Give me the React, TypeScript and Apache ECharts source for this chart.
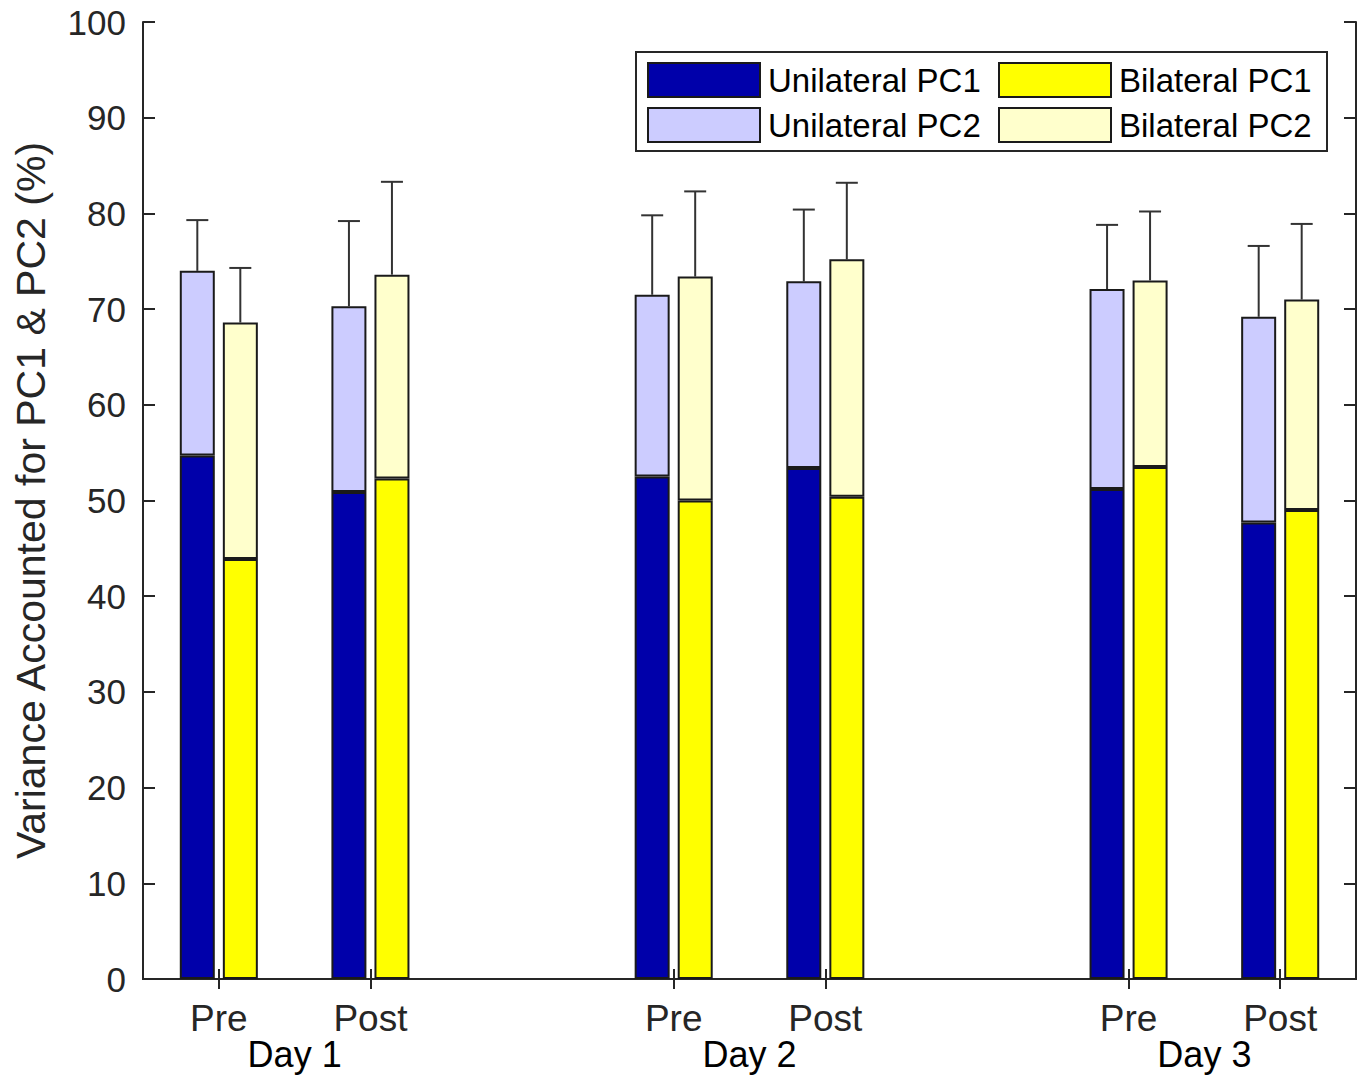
import React, { useEffect, useRef } from "react";
import * as echarts from "echarts";

// Slots on the category axis (empty slots separate the days)
const slotLabels = ["Pre", "Post", "", "Pre", "Post", "", "Pre", "Post"];
const slotOfGroup = [0, 1, 3, 4, 6, 7];
const dayLabels = ["Day 1", "Day 2", "Day 3"];
const dayPositions = [1, 4, 7];

// Values per group (Day1 Pre, Day1 Post, Day2 Pre, Day2 Post, Day3 Pre, Day3 Post)
const uniPC1 = [54.7, 50.9, 52.5, 53.4, 51.2, 47.7];
const uniTotal = [74.0, 70.3, 71.5, 72.9, 72.1, 69.2];
const uniSD = [5.3, 8.9, 8.3, 7.5, 6.7, 7.4];
const biPC1 = [43.9, 52.3, 50.0, 50.4, 53.5, 49.0];
const biTotal = [68.6, 73.6, 73.4, 75.2, 73.0, 71.0];
const biSD = [5.7, 9.7, 8.9, 8.0, 7.2, 7.9];

const yTicks = { min: 0, max: 100, interval: 10 };

const FONT = "'Liberation Sans', Arial, Helvetica, sans-serif";
const AXIS = "#262626";

function toSlots(vals: number[]): (number | string)[] {
  const out: (number | string)[] = slotLabels.map(() => "-");
  vals.forEach((v, i) => {
    out[slotOfGroup[i]] = v;
  });
  return out;
}

function errorSeries(name: string, totals: number[], sds: number[], offset: number) {
  return {
    type: "custom",
    name,
    xAxisIndex: 0,
    yAxisIndex: 0,
    z: 1,
    data: totals.map((t, i) => [slotOfGroup[i], t, sds[i]]),
    renderItem: (params: any, api: any) => {
      const idx = api.value(0);
      const top = api.value(1);
      const sd = api.value(2);
      const p0 = api.coord([idx, top]);
      const p1 = api.coord([idx, top + sd]);
      const x = p0[0] + offset;
      const style = { stroke: "#333333", lineWidth: 2 };
      return {
        type: "group",
        children: [
          { type: "line", shape: { x1: x, y1: p0[1], x2: x, y2: p1[1] }, style },
          { type: "line", shape: { x1: x - 11, y1: p1[1], x2: x + 11, y2: p1[1] }, style },
        ],
      };
    },
  };
}

export default function App() {
  const ref = useRef<HTMLDivElement>(null);

  useEffect(() => {
    if (!ref.current) return;
    const chart = echarts.init(ref.current, undefined, { renderer: "svg" });

    const barBorder = { borderColor: "#1a1a1a", borderWidth: 2 };
    const legendCommon = {
      orient: "vertical",
      top: 62,
      itemWidth: 112,
      itemHeight: 34,
      itemGap: 9,
      padding: 0,
      icon: "rect",
      selectedMode: false,
      textStyle: { fontSize: 33, fontFamily: FONT, color: "#000", padding: [0, 0, 0, 3] },
    };

    const option: any = {
      animation: false,
      backgroundColor: "#ffffff",
      grid: { left: 143, right: 7, top: 22, bottom: 97, containLabel: false },
      graphic: [
        {
          type: "rect",
          z: 3,
          shape: { x: 636, y: 52, width: 691, height: 99 },
          style: { fill: "#ffffff", stroke: AXIS, lineWidth: 2 },
        },
      ],
      legend: [
        { ...legendCommon, left: 647, data: ["Unilateral PC1", "Unilateral PC2"] },
        { ...legendCommon, left: 998, data: ["Bilateral PC1", "Bilateral PC2"] },
      ],
      xAxis: [
        {
          type: "category",
          data: slotLabels,
          position: "bottom",
          axisLine: { show: true, lineStyle: { color: AXIS, width: 2 } },
          axisTick: {
            show: true,
            inside: true,
            length: 10,
            alignWithLabel: true,
            interval: (i: number, v: string) => v !== "",
            lineStyle: { color: AXIS, width: 2 },
          },
          axisLabel: { interval: 0, fontSize: 37, fontFamily: FONT, color: AXIS, margin: 21 },
          splitLine: { show: false },
        },
        {
          type: "category",
          data: slotLabels,
          position: "top",
          axisLine: { show: true, lineStyle: { color: AXIS, width: 2 } },
          axisTick: {
            show: true,
            inside: true,
            length: 10,
            alignWithLabel: true,
            interval: (i: number, v: string) => v !== "",
            lineStyle: { color: AXIS, width: 2 },
          },
          axisLabel: { show: false },
          splitLine: { show: false },
        },
        {
          type: "value",
          position: "bottom",
          min: 0,
          max: 8,
          interval: 1,
          axisLine: { show: false },
          axisTick: { show: false },
          splitLine: { show: false },
          axisLabel: {
            fontSize: 36,
            fontFamily: FONT,
            color: "#000",
            margin: 57,
            formatter: (v: number) => {
              const k = dayPositions.indexOf(Math.round(v));
              return k >= 0 ? dayLabels[k] : "";
            },
          },
        },
      ],
      yAxis: [
        {
          type: "value",
          position: "left",
          ...yTicks,
          name: "Variance Accounted for PC1 & PC2 (%)",
          nameLocation: "middle",
          nameGap: 92,
          nameTextStyle: { fontSize: 41, fontFamily: FONT, color: AXIS },
          axisLine: { show: true, lineStyle: { color: AXIS, width: 2 } },
          axisTick: { show: true, inside: true, length: 12, lineStyle: { color: AXIS, width: 2 } },
          axisLabel: { fontSize: 35, fontFamily: FONT, color: AXIS, margin: 17 },
          splitLine: { show: false },
        },
        {
          type: "value",
          position: "right",
          ...yTicks,
          axisLine: { show: true, lineStyle: { color: AXIS, width: 2 } },
          axisTick: { show: true, inside: true, length: 12, lineStyle: { color: AXIS, width: 2 } },
          axisLabel: { show: false },
          splitLine: { show: false },
        },
      ],
      series: [
        {
          name: "Unilateral PC1",
          type: "bar",
          stack: "uni",
          barWidth: 35,
          barGap: "23%",
          z: 2,
          itemStyle: { color: "#0000aa", ...barBorder },
          data: toSlots(uniPC1),
        },
        {
          name: "Unilateral PC2",
          type: "bar",
          stack: "uni",
          barWidth: 35,
          barGap: "23%",
          z: 2,
          itemStyle: { color: "#ccccff", ...barBorder },
          data: toSlots(uniTotal.map((t, i) => +(t - uniPC1[i]).toFixed(2))),
        },
        {
          name: "Bilateral PC1",
          type: "bar",
          stack: "bi",
          barWidth: 35,
          barGap: "23%",
          z: 2,
          itemStyle: { color: "#ffff00", ...barBorder },
          data: toSlots(biPC1),
        },
        {
          name: "Bilateral PC2",
          type: "bar",
          stack: "bi",
          barWidth: 35,
          barGap: "23%",
          z: 2,
          itemStyle: { color: "#ffffcc", ...barBorder },
          data: toSlots(biTotal.map((t, i) => +(t - biPC1[i]).toFixed(2))),
        },
        errorSeries("Unilateral SD", uniTotal, uniSD, -21.5),
        errorSeries("Bilateral SD", biTotal, biSD, 21.5),
      ],
    };

    chart.setOption(option);
    return () => chart.dispose();
  }, []);

  return (
    <div
      ref={ref}
      style={{ position: "fixed", left: 0, top: 0, width: 1363, height: 1076, background: "#fff" }}
    />
  );
}
